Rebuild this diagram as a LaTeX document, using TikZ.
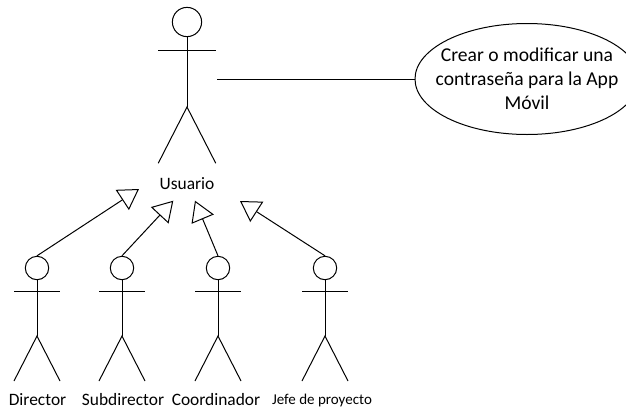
\documentclass[tikz,border=0pt]{standalone}
\usepackage{fontspec}
\setmainfont{Carlito}
\usetikzlibrary{arrows.meta,shapes.geometric}
\tikzset{
  umlline/.style={line width=1pt},
  actorhead/.style={draw, umlline, circle, inner sep=0pt},
  actorname/.style={inner sep=0pt, font=\fontsize{17.4pt}{20pt}\selectfont},
  inherit/.style={umlline, -{Triangle[open, length=20pt, width=24pt, line width=1pt]}},
}
\newcommand\stickactor[3]{
  \begin{scope}[shift={#2}, scale=#3]
    \node[actorhead, minimum size=#3*23.4pt] (#1) at (0, 0) {};
    \draw[umlline] (#1.south) -- (0, 68) ;
    \draw[umlline] (-23, 23) -- (23, 23) ;
    \draw[umlline] (-23, 113) -- (0, 68) -- (23, 113) ;
  \end{scope}
}
\begin{document}
\begin{tikzpicture}[x=1pt, y=-1pt]
    \useasboundingbox (0, 0) rectangle (626, 410) ;
    % main actor and its use case
    \stickactor{usuario}{(187, 22)}{1.25}
    \node[actorname] (usuariolabel) at (187, 184) {Usuario} ;
    \node[draw, umlline, ellipse, minimum width=224pt, minimum height=111pt, inner sep=0pt] (crear) at (527, 79) {} ;
    \node[align=center, inner sep=0pt, font=\fontsize{19.6pt}{24pt}\selectfont] (crearlabel) at (527, 79)
      {Crear o modificar una\\contraseña para la App\\Móvil} ;
    \coordinate (usuariohand) at (217, 79) ;
    \draw[umlline] (usuariohand) -- (crear.west) ;
    % the four specialised actors
    \stickactor{director}{(37, 268)}{1}
    \stickactor{subdirector}{(122, 268)}{1}
    \stickactor{coordinador}{(218, 268)}{1}
    \stickactor{jefe}{(325, 268)}{1}
    \node[actorname] (directorlabel) at (37.5, 400) {Director} ;
    \node[actorname] (subdirectorlabel) at (123, 400) {Subdirector} ;
    \node[actorname] (coordinadorlabel) at (216, 400) {Coordinador} ;
    \node[actorname, font=\fontsize{15pt}{17pt}\selectfont] (jefelabel) at (322, 400) {Jefe de proyecto} ;
    \coordinate (tipdirector) at (139, 189) ;
    \coordinate (tipsubdirector) at (173.3, 200.7) ;
    \coordinate (tipcoordinador) at (195, 200.7) ;
    \coordinate (tipjefe) at (240, 201) ;
    \draw[inherit] (director.north) -- (tipdirector) ;
    \draw[inherit] (subdirector.north) -- (tipsubdirector) ;
    \draw[inherit] (coordinador.north) -- (tipcoordinador) ;
    \draw[inherit] (jefe.north) -- (tipjefe) ;
\end{tikzpicture}
\end{document}
